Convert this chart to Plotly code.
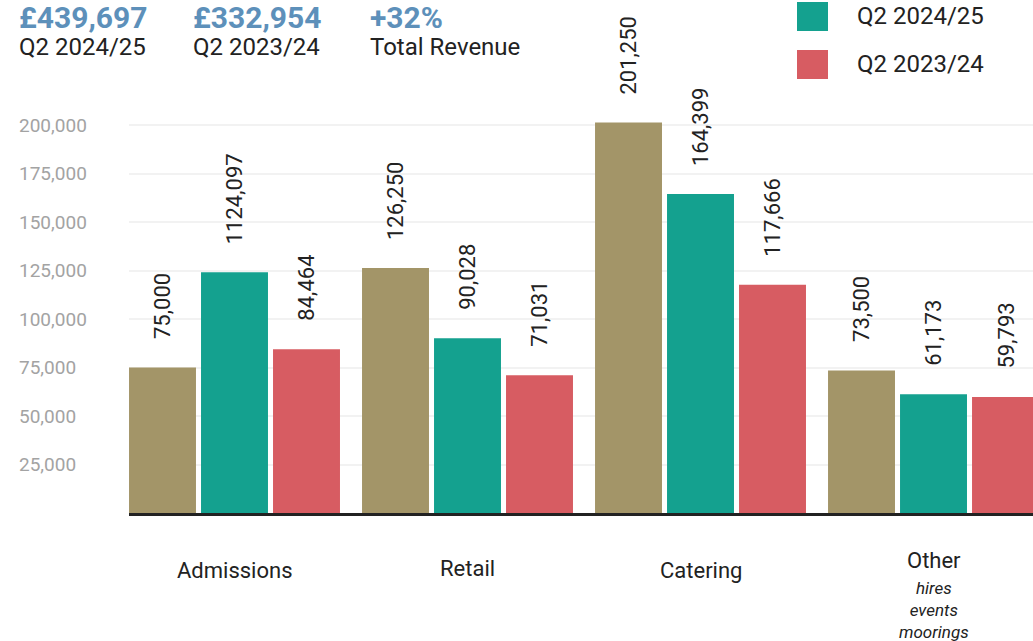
import plotly.graph_objects as go

# ---------------- data ----------------
categories = ["Admissions", "Retail", "Catering", "Other"]
target_values = [75000, 126250, 201250, 73500]
q2_2024_values = [124097, 90028, 164399, 61173]
q2_2023_values = [84464, 71031, 117666, 59793]
target_labels = ["75,000", "126,250", "201,250", "73,500"]
q2_2024_labels = ["1124,097", "90,028", "164,399", "61,173"]
q2_2023_labels = ["84,464", "71,031", "117,666", "59,793"]
y_tick_values = [25000, 50000, 75000, 100000, 125000, 150000, 175000, 200000]
y_tick_labels = ["25,000", "50,000", "75,000", "100,000", "125,000", "150,000", "175,000", "200,000"]
other_sub_lines = ["hires", "events", "moorings"]
headline_values = ["£439,697", "£332,954", "+32%"]
headline_captions = ["Q2 2024/25", "Q2 2023/24", "Total Revenue"]
legend_names = ["Q2 2024/25", "Q2 2023/24"]

# ---------------- style ----------------
TAN = "#a39568"
TEAL = "#14a18f"
RED = "#d75c62"
BLUE = "#5d90ba"
DARK = "#222222"
GREY = "#a3a3a3"
FONT = "Roboto"

W, H = 1033, 641
ML, MR, MT, MB = 129, 0, 100, 128
PW = W - ML - MR
PH = H - MT - MB
PX_PER_UNIT = 0.00194

def px_x(px):
    return (px - ML) / PW

def px_y(py):
    return (H - MB - py) / PH

fig = go.Figure()
series = [
    (target_values, target_labels, TAN, "Target"),
    (q2_2024_values, q2_2024_labels, TEAL, legend_names[0]),
    (q2_2023_values, q2_2023_labels, RED, legend_names[1]),
]
for vals, labs, col, name in series:
    fig.add_trace(go.Bar(x=categories, y=vals, name=name, marker_color=col,
                         marker_line_width=0, showlegend=False, hoverinfo="x+y"))

annotations = []
slot = 0.309
for k, (vals, labs, col, name) in enumerate(series):
    for i, (v, lab) in enumerate(zip(vals, labs)):
        annotations.append(dict(x=i + (k - 1) * slot, y=v, xref="x", yref="y",
                                text=lab, textangle=-90, showarrow=False,
                                xanchor="center", yanchor="bottom", yshift=26,
                                font=dict(family=FONT, size=22, color=DARK)))

# y tick labels (left aligned)
for v, lab in zip(y_tick_values, y_tick_labels):
    annotations.append(dict(x=px_x(17), y=v, xref="paper", yref="y", text=lab,
                            showarrow=False, xanchor="left", yanchor="middle",
                            font=dict(family=FONT, size=19, color=GREY)))

# category labels
cat_y = [570, 568, 570, 560]
for i, (c, yy) in enumerate(zip(categories, cat_y)):
    annotations.append(dict(x=i, y=px_y(yy), xref="x", yref="paper", text=c,
                            showarrow=False, xanchor="center", yanchor="middle",
                            font=dict(family=FONT, size=22, color=DARK)))
annotations.append(dict(x=3, y=px_y(610), xref="x", yref="paper",
                        text="<i>" + "<br>".join(other_sub_lines) + "</i>",
                        showarrow=False, xanchor="center", yanchor="middle",
                        align="center",
                        font=dict(family=FONT, size=17, color=DARK)))

# headline figures
head_x = [17, 191, 368]
for hx, val, cap in zip(head_x, headline_values, headline_captions):
    annotations.append(dict(x=px_x(hx), y=px_y(18), xref="paper", yref="paper",
                            text="<b>" + val + "</b>", showarrow=False,
                            xanchor="left", yanchor="middle",
                            font=dict(family=FONT, size=30, color=BLUE)))
    annotations.append(dict(x=px_x(hx), y=px_y(47), xref="paper", yref="paper",
                            text=cap, showarrow=False, xanchor="left", yanchor="middle",
                            font=dict(family=FONT, size=24, color=DARK)))

# custom legend
shapes = []
legend_rows = [(TEAL, 2, 31, 16), (RED, 50, 79, 64)]
for (col, y0, y1, yc), name in zip(legend_rows, legend_names):
    shapes.append(dict(type="rect", xref="paper", yref="paper",
                       x0=px_x(797), x1=px_x(828), y0=px_y(y1), y1=px_y(y0),
                       fillcolor=col, line_width=0))
    annotations.append(dict(x=px_x(855), y=px_y(yc), xref="paper", yref="paper",
                            text=name, showarrow=False, xanchor="left", yanchor="middle",
                            font=dict(family=FONT, size=24, color=DARK)))

fig.update_layout(
    width=W, height=H,
    margin=dict(l=ML, r=MR, t=MT, b=MB, pad=0),
    paper_bgcolor="white", plot_bgcolor="white",
    barmode="group", bargap=0.073, bargroupgap=0.07,
    annotations=annotations, shapes=shapes,
    font=dict(family=FONT, color=DARK),
    xaxis=dict(type="category", range=[-0.4528, 3.427], showline=True,
               linecolor=DARK, linewidth=3, showticklabels=False, ticks="",
               showgrid=False, zeroline=False, fixedrange=True),
    yaxis=dict(range=[0, PH / PX_PER_UNIT], tickvals=y_tick_values,
               showticklabels=False, showgrid=True, gridcolor="#f2f2f2",
               gridwidth=2, zeroline=False, showline=False, ticks="",
               fixedrange=True),
)

fig.write_html("out.html")
